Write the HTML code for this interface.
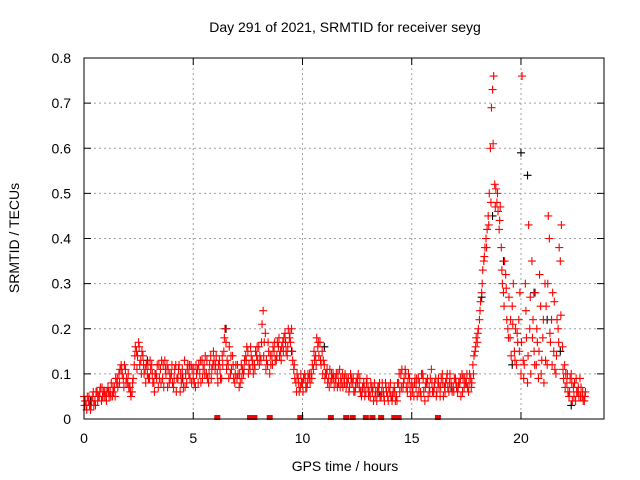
<!DOCTYPE html>
<html><head><meta charset="utf-8"><style>
html,body{margin:0;padding:0;background:#fff;}
svg{display:block;font-family:"Liberation Sans",sans-serif;}
</style></head><body>
<svg id="chart" width="640" height="480">
<text x="345" y="32" text-anchor="middle" font-size="14">Day 291 of 2021, SRMTID for receiver seyg</text>
<text x="345" y="471" text-anchor="middle" font-size="14">GPS time / hours</text>
<text transform="translate(19,238) rotate(-90)" text-anchor="middle" font-size="14">SRMTID / TECUs</text>
<g id="grid"></g><g id="marks"></g><g id="axes"></g>
</svg>
<script>
const xTicks=[0,5,10,15,20];
const yTicks=[0,0.1,0.2,0.3,0.4,0.5,0.6,0.7,0.8];
const yTickLabels=["0","0.1","0.2","0.3","0.4","0.5","0.6","0.7","0.8"];
const redValuesA=[.05,.03,.04,.02,.05,.04,.06,.05,.04,.06,
.05,.07,.06,.05,.07,.08,.10,.12,.09,.11,
.08,.07,.06,.12,.15,.17,.13,.14,.11,.10,
.09,.12,.08,.10,.07,.11,.09,.13,.12,.08,
.10,.07,.12,.09,.06,.11,.13,.08,.10,.12,
.09,.07,.11,.10,.13,.12,.10,.08,.14,.12,
.11,.10,.13,.09,.15,.17,.12,.10,.14,.08,
.09,.07,.12,.10,.14,.15,.11,.13,.12,.14,
.16,.13,.24,.19,.12,.10,.14,.15,.13,.16,
.15,.17,.19,.14,.18,.20,.11,.08,.09,.07,
.08,.10,.07,.09,.10,.11,.14,.16,.17,.15,
.12,.10,.09,.08,.10,.09,.07,.11,.08,.09,
.07,.09,.10,.08,.06,.09,.07,.05,.08,.06,
.07,.05,.06,.08,.04,.07,.05,.06,.08,.05,
.06,.04,.07,.05,.08,.10,.07,.11,.06,.09,
.08,.05,.07,.09,.06,.10,.04,.08,.07,.11,
.06,.09,.08,.05,.10,.07,.09,.06,.08,.07,
.09,.06,.08,.10,.07,.08,.06,.09,.12,.15,
.17,.22,.28,.35,.40,.45,.60,.73,.52,.48,
.42,.38,.28,.32,.20,.18,.25,.15,.12,.22,
.10,.13,.30,.08,.20,.35,.15,.12,.09,.25,
.18,.30,.12,.40,.22,.15,.10,.20,.35,.16,
.12,.08,.05,.10,.07,.04,.06,.09,.05,.04];
const redValuesB=[.04,.05,.03,.04,.03,.06,.05,.07,.05,.06,
.06,.05,.08,.06,.09,.07,.11,.10,.12,.09,
.07,.05,.09,.16,.14,.12,.15,.10,.12,.09,
.11,.08,.10,.12,.09,.13,.07,.10,.11,.09,
.08,.11,.09,.12,.08,.07,.10,.12,.09,.11,
.08,.10,.12,.08,.11,.14,.09,.12,.11,.13,
.14,.12,.09,.12,.20,.13,.16,.11,.09,.12,
.10,.08,.11,.13,.16,.12,.14,.10,.15,.13,
.14,.21,.17,.13,.15,.12,.16,.13,.17,.14,
.16,.18,.15,.20,.17,.13,.09,.10,.06,.08,
.09,.07,.10,.08,.12,.13,.18,.14,.12,.13,
.10,.08,.11,.09,.07,.10,.08,.09,.07,.10,
.08,.07,.09,.06,.08,.10,.06,.07,.05,.09,
.06,.07,.04,.06,.07,.05,.08,.04,.06,.07,
.05,.06,.04,.08,.06,.11,.09,.07,.10,.05,
.07,.09,.05,.08,.10,.06,.08,.05,.09,.06,
.08,.06,.07,.09,.05,.08,.07,.10,.06,.09,
.07,.08,.05,.09,.08,.07,.10,.08,.14,.18,
.20,.26,.33,.38,.42,.50,.69,.76,.51,.46,
.47,.30,.35,.22,.27,.14,.30,.20,.17,.28,
.76,.12,.18,.43,.10,.22,.28,.17,.32,.13,
.08,.25,.45,.17,.28,.11,.22,.38,.43,.09,
.10,.06,.09,.04,.08,.06,.05,.07,.04,.06];
const redValuesC=[.03,.02,.05,.03,.06,.03,.04,.06,.07,.05,
.04,.06,.05,.07,.05,.09,.08,.11,.07,.08,
.10,.06,.08,.14,.11,.16,.10,.12,.08,.12,
.13,.10,.06,.09,.12,.08,.12,.11,.07,.10,
.12,.09,.06,.11,.10,.09,.07,.11,.12,.08,
.11,.12,.08,.13,.09,.10,.13,.10,.09,.15,
.12,.08,.11,.14,.18,.11,.09,.14,.12,.10,
.12,.10,.09,.11,.13,.10,.16,.12,.11,.16,
.12,.17,.14,.11,.17,.14,.12,.17,.14,.18,
.13,.15,.17,.16,.19,.15,.12,.06,.08,.10,
.06,.09,.08,.10,.09,.15,.12,.17,.13,.10,
.09,.11,.07,.10,.09,.08,.10,.07,.10,.08,
.09,.06,.08,.09,.07,.08,.09,.06,.07,.08,
.05,.08,.07,.05,.06,.08,.06,.05,.07,.04,
.08,.05,.06,.04,.10,.07,.08,.10,.08,.07,
.06,.08,.09,.06,.05,.09,.07,.09,.06,.08,
.07,.05,.09,.07,.08,.06,.10,.08,.07,.06,
.08,.07,.09,.06,.09,.10,.08,.07,.10,.16,
.19,.24,.30,.36,.38,.43,.48,.61,.47,.50,
.44,.33,.25,.29,.18,.22,.21,.13,.19,.15,
.17,.09,.24,.14,.27,.18,.12,.20,.15,.10,
.22,.13,.30,.19,.12,.26,.14,.17,.23,.11,
.07,.10,.06,.08,.05,.09,.07,.05,.06,.05];
const zeroHours=[6.1,7.6,7.8,8.5,9.9,11.3,12.0,12.3,12.9,13.2,13.6,14.2,14.4,16.2];
const blackHours=[0.3,2.9,4.5,6.5,9.5,11,13.5,16.8,18.2,18.7,19.2,19.6,20.0,20.3,20.6,21.2,21.8,22.3];
const blackValues=[.04,.13,.09,.2,.15,.16,.06,.07,.27,.45,.35,.12,.59,.54,.28,.22,.15,.03];
const NS="http://www.w3.org/2000/svg";
const L=84,R=604,T=58,B=419,XMAX=23.8,YMAX=0.8;
function xs(h){return L+(R-L)*h/XMAX;}
function ys(v){return B-(B-T)*v/YMAX;}
function mk(tag,attrs,parent){const e=document.createElementNS(NS,tag);for(const k in attrs)e.setAttribute(k,attrs[k]);parent.appendChild(e);return e;}
const grid=document.getElementById('grid'),marks=document.getElementById('marks'),axes=document.getElementById('axes');
xTicks.forEach((t,i)=>{
 const x=xs(t);
 if(t>0){const g=mk('line',{x1:x,x2:x,y1:T,y2:B,stroke:'#a0a0a0','stroke-dasharray':'2,3'},grid);
 
 }
 const a=mk('line',{x1:x,x2:x,y1:B,y2:B-7,stroke:'#000'},axes);
 
 
 const b=mk('line',{x1:x,x2:x,y1:T,y2:T+7,stroke:'#000'},axes);
 
 
 const tx=mk('text',{x:x,y:B+24,'text-anchor':'middle','font-size':14},axes);
 tx.textContent=String(t);
 
 
});
yTicks.forEach((t,i)=>{
 const y=ys(t);
 if(t>0&&t<YMAX){const g=mk('line',{x1:L,x2:R,y1:y,y2:y,stroke:'#a0a0a0','stroke-dasharray':'2,3'},grid);
 
 }
 const a=mk('line',{x1:L,x2:L+7,y1:y,y2:y,stroke:'#000'},axes);
 
 
 const b=mk('line',{x1:R,x2:R-7,y1:y,y2:y,stroke:'#000'},axes);
 
 
 const tx=mk('text',{x:L-13,y:y+5,'text-anchor':'end','font-size':14},axes);
 tx.textContent=yTickLabels[i];
 
 
});
const frame=mk('rect',{x:L,y:T,width:R-L,height:B-T,fill:'none',stroke:'#000'},axes);


function plus(h,v,col,name){
 const x=xs(h),y=ys(v);
 const p=mk('path',{d:`M${x-4},${y}H${x+4}M${x},${y-4}V${y+4}`,stroke:col,'stroke-width':1.1,fill:'none'},marks);
 
 
}
blackHours.forEach((h,i)=>plus(h,blackValues[i],'#000','black-point'));
redValuesA.forEach((v,i)=>plus(i*0.1,v,'#f00','red-point'));
redValuesB.forEach((v,i)=>plus(i*0.1+0.05,v,'#f00','red-point'));
redValuesC.forEach((v,i)=>plus(i*0.1+0.025,v,'#f00','red-point'));
zeroHours.forEach(h=>{
 const r=mk('rect',{x:xs(h)-3,y:B-4,width:6,height:5,fill:'#f00'},marks);
 
 
});
</script>
</body></html>
